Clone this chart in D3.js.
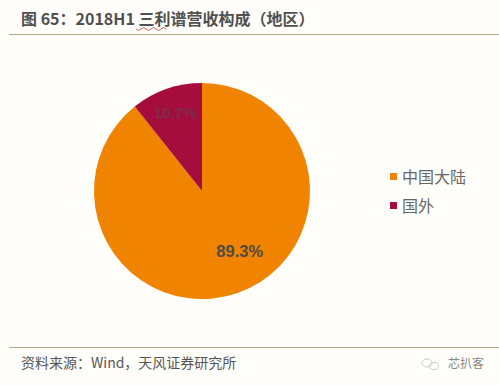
<!DOCTYPE html>
<html><head><meta charset="utf-8">
<style>html,body{margin:0;padding:0;background:#fffefb;overflow:hidden}svg{display:block}</style>
<script src="https://cdn.jsdelivr.net/npm/d3@7/dist/d3.min.js"></script></head>
<body><svg id="c" width="499" height="385"></svg>
<script>
const categories=["中国大陆","国外"];
const values=[89.3,10.7];
const labels=["89.3%","10.7%"];
const colors=["#f08300","#a50e3c"];
const title="图 65：2018H1 三利谱营收构成（地区）";
const source="资料来源：Wind，天风证券研究所";
const mark="芯扒客";
const cjk='"Noto Sans CJK SC","Liberation Sans",sans-serif';
const svg=d3.select("#c");
svg.append("rect").attr("width",499).attr("height",385).attr("fill","#fffefb");
svg.append("text").attr("x",21).attr("y",25).attr("font-family",cjk).attr("font-size",16).attr("font-weight",700).attr("fill","#505050").text(title);
svg.append("path").attr("d","M136 29q2.5 3 5 0t5 0t5 0t5 0t5 0t5 0").attr("fill","none").attr("stroke","#c0392b").attr("stroke-width",0.8);
svg.append("line").attr("x1",9).attr("x2",499).attr("y1",34.5).attr("y2",34.5).attr("stroke","#b5aa80").attr("stroke-width",1);
svg.append("line").attr("x1",9).attr("x2",499).attr("y1",347.5).attr("y2",347.5).attr("stroke","#b5aa80").attr("stroke-width",1);
const cx=202,cy=191,r=108;
const pie=d3.pie().sort(null).value(d=>d)(values);
const arc=d3.arc().innerRadius(0).outerRadius(r);
const g=svg.append("g").attr("transform",`translate(${cx},${cy})`);
g.selectAll("path").data(pie).join("path").attr("d",arc).attr("fill",(d,i)=>colors[i]);
const labelArc=d3.arc().innerRadius(r*0.75).outerRadius(r*0.75);
const nudge=[[11,-16],[0,-2]];
g.selectAll("text").data(pie).join("text").attr("transform",(d,i)=>{const c=labelArc.centroid(d);return `translate(${c[0]+nudge[i][0]},${c[1]+nudge[i][1]})`;})
 .attr("text-anchor","middle").attr("dy","0.35em").attr("font-family",'"Liberation Sans",sans-serif')
 .attr("font-size",(d,i)=>i?15:16.5).attr("font-weight",700).attr("fill",(d,i)=>i?"#7d2b4c":"#4f4a42").text((d,i)=>labels[i]);
const lg=svg.append("g").selectAll("g").data(categories).join("g").attr("transform",(d,i)=>`translate(390,${177+i*29})`);
lg.append("rect").attr("x",0).attr("y",-4).attr("width",7).attr("height",7).attr("fill",(d,i)=>colors[i]);
lg.append("text").attr("x",12).attr("y",6).attr("font-family",cjk).attr("font-size",16).attr("fill","#666").text(d=>d);
svg.append("text").attr("x",21).attr("y",368).attr("font-family",cjk).attr("font-size",14).attr("fill","#555").text(source);
svg.append("text").attr("x",448).attr("y",368).attr("font-family",cjk).attr("font-size",12).attr("fill","#888").text(mark);
const ic=svg.append("g").attr("fill","none").attr("stroke","#ccc").attr("stroke-width",1);
ic.append("ellipse").attr("cx",427).attr("cy",363).attr("rx",5).attr("ry",4);
ic.append("ellipse").attr("cx",434).attr("cy",366).attr("rx",4.5).attr("ry",3.5);
</script></body></html>
